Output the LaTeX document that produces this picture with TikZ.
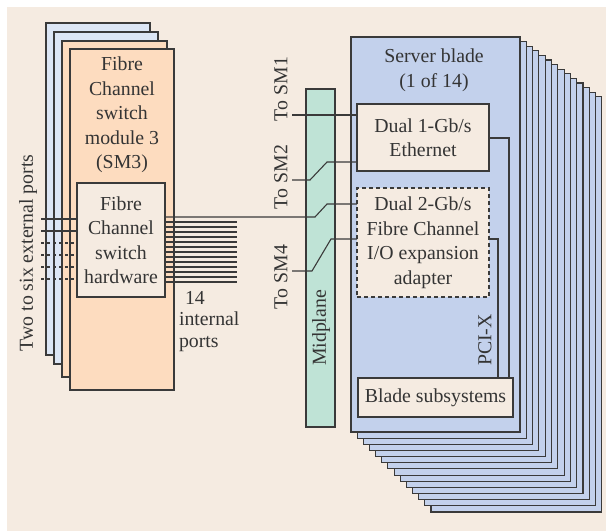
\documentclass[tikz,border=0pt]{standalone}
\usepackage{fontspec}
\setmainfont{Liberation Serif}
\definecolor{paper}{HTML}{F5EBE1}
\definecolor{peach}{HTML}{FDDCBF}
\definecolor{paleblue}{HTML}{DCE6F5}
\definecolor{bladeblue}{HTML}{C3D1EC}
\definecolor{mint}{HTML}{BFE3D6}
\definecolor{ink}{HTML}{3A3A3A}
\begin{document}
\begin{tikzpicture}[x=1pt,y=-1pt,
  every node/.style={inner sep=0pt,outer sep=0pt},
  panel/.style={draw=ink,line width=1.1pt,anchor=north west},
  wire/.style={draw=ink,line width=1.1pt},
  label/.style={font=\fontsize{19.8}{24.5}\selectfont,text=ink!90!black,align=center},
  dashwire/.style={wire,dash pattern=on 3pt off 3pt}]
\useasboundingbox (0,0) rectangle (606,531);
\fill[white] (0,0) rectangle (606,531);
\fill[paper] (7,7) rectangle (606,531);

% --- switch modules (stacked) ---
\node[panel,fill=paleblue,minimum width=104pt,minimum height=332pt] (swA) at (46,23) {};
\node[panel,fill=paleblue,minimum width=104pt,minimum height=332pt] (swB) at (54,32) {};
\node[panel,fill=peach,minimum width=105pt,minimum height=336pt] (swC) at (62,41) {};
\node[panel,fill=peach,minimum width=104pt,minimum height=341pt] (sw) at (70,49) {};
\node[label] (swtxt) at (122,115) {Fibre\\Channel\\switch\\module 3\\(SM3)};
\node[panel,fill=paper,minimum width=88pt,minimum height=114pt] (hw) at (77,183) {};
\node[label] at (hw.center) {Fibre\\Channel\\switch\\hardware};

% external ports
\foreach \yy/\st in {219/wire,231/wire,243/dashwire,255/dashwire,267/dashwire,279/dashwire}{
  \coordinate (ext\yy) at (41,\yy);
  \draw[\st] (ext\yy) -- (hw.west |- ext\yy);
}
\node[label,rotate=90] (extlbl) at (28,253) {Two to six external ports};

% internal ports
\foreach \i in {1,...,13}{
  \coordinate (ip\i) at (237,{217+5*\i});
  \draw[wire] (hw.east |- ip\i) -- (ip\i);
}
\node[label,align=left,anchor=north west,font=\fontsize{19.8}{21.5}\selectfont] (iplbl) at (179,291) {\hspace{6pt}14\\internal\\ports};

% --- server blades (stacked) ---
\foreach \i in {13,12,...,1}{
  \node[panel,fill=bladeblue,
        minimum width={169+0.15*\i},minimum height={395+1.55*\i}]
        (blade\i) at ({351+6.15*\i},{37+4.6*\i}) {};
}
\node[panel,fill=bladeblue,minimum width=169pt,minimum height=395pt] (blade) at (351,37) {};
\node[label] (bladetxt) at (434,70) {Server blade\\(1 of 14)};

\node[panel,fill=paper,minimum width=132pt,minimum height=67pt] (eth) at (357,104) {};
\node[label] at (eth.center) {Dual 1-Gb/s\\Ethernet};
\node[panel,fill=paper,dash pattern=on 4pt off 3pt,minimum width=132pt,minimum height=109pt] (fc) at (357,188) {};
\node[label] at (fc.center) {Dual 2-Gb/s\\Fibre Channel\\I/O expansion\\adapter};
\node[panel,fill=paper,minimum width=155pt,minimum height=39pt] (sub) at (358,378) {};
\node[label] at (sub.center) {Blade subsystems};

\coordinate (ethbus) at (509,138);
\coordinate (fcbus) at (498,239);
\draw[wire] (eth.east |- ethbus) -- (ethbus) -- (ethbus |- sub.north);
\draw[wire] (fc.east |- fcbus) -- (fcbus) -- (fcbus |- sub.north);
\node[label,rotate=90] (pcix) at (485,340) {PCI-X};

% --- midplane ---
\node[panel,fill=mint,minimum width=29pt,minimum height=338pt] (mid) at (306,89) {};
\node[label,rotate=90] at (321,328) {Midplane};

% links through the midplane
\coordinate (sm1) at (292,115);
\coordinate (sm2) at (292,180);
\coordinate (sm4) at (292,271);
\draw[wire] (sm1) -- (eth.west |- sm1);
\draw[wire] (sm2) -- (310,180) -- (327,162) -- (eth.west |- 0,162);
\draw[wire] (hw.east |- 0,217) -- (315,217) -- (327,204) -- (fc.west |- 0,204);
\draw[wire] (sm4) -- (312,271) -- (331,239) -- (fc.west |- 0,239);

\node[label,rotate=90] (l1) at (281,89) {To SM1};
\node[label,rotate=90] (l2) at (281,177) {To SM2};
\node[label,rotate=90] (l4) at (281,277) {To SM4};
\end{tikzpicture}
\end{document}
